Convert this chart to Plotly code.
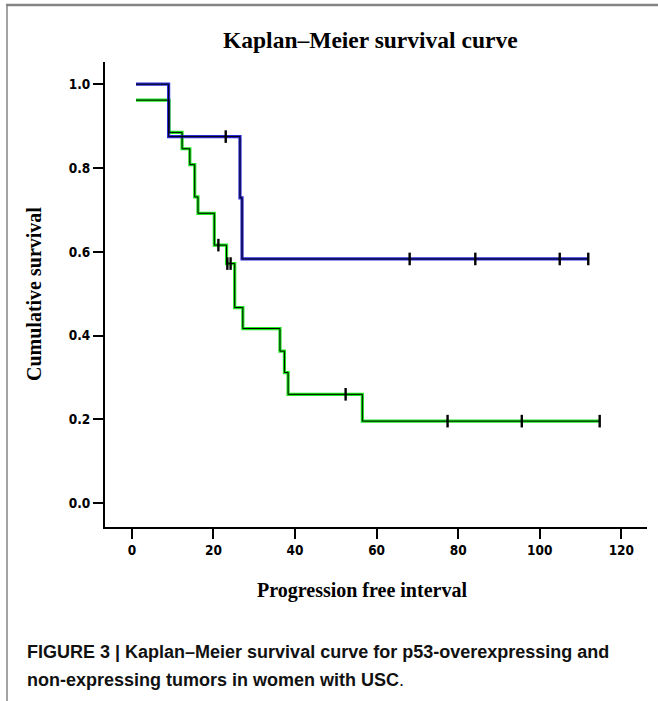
import plotly.graph_objects as go

# ---- data ----
blue_time = [1, 9, 26.5, 27, 111.9]
blue_surv = [1.0, 0.875, 0.729, 0.583, 0.583]
blue_cens_time = [23, 68.1, 84.2, 104.9, 111.9]
blue_cens_surv = [0.875, 0.583, 0.583, 0.583, 0.583]

green_time = [1, 9.1, 12.3, 14.2, 15.4, 16.2, 20.2, 23.2, 25.2, 27.2, 36.3, 37.4, 38.3, 56.5, 114.7]
green_surv = [0.962, 0.885, 0.846, 0.808, 0.731, 0.692, 0.616, 0.572, 0.467, 0.417, 0.363, 0.312, 0.260, 0.196, 0.196]
green_cens_time = [21.2, 23.4, 24.2, 52.4, 77.4, 95.6, 114.7]
green_cens_surv = [0.616, 0.572, 0.572, 0.260, 0.196, 0.196, 0.196]

x_ticks = [0, 20, 40, 60, 80, 100, 120]
y_ticks = [0.0, 0.2, 0.4, 0.6, 0.8, 1.0]
y_tick_labels = ["0.0", "0.2", "0.4", "0.6", "0.8", "1.0"]

title_text = "Kaplan\u2013Meier survival curve"
x_title = "Progression free interval"
y_title = "Cumulative survival"
caption_1 = "FIGURE 3 | Kaplan\u2013Meier survival curve for p53-overexpressing and"
caption_2 = "non-expressing tumors in women with USC."

# ---- geometry (pixels) ----
W, H = 658, 701
L, R, T, B = 105, 11, 62, 174
pw, ph = W - L - R, H - T - B


def px(xpix):
    return (xpix - L) / pw


def py(ypix):
    return (H - B - ypix) / ph


BLUE = "#2a2ad8"
GREEN = "#1ee61e"

fig = go.Figure()
for t, s, c in [(green_time, green_surv, GREEN), (blue_time, blue_surv, BLUE)]:
    fig.add_trace(go.Scatter(x=t, y=s, mode="lines", line=dict(color=c, width=3.2, shape="hv"),
                             hoverinfo="skip", showlegend=False))
for t, s in [(green_time, green_surv), (blue_time, blue_surv)]:
    fig.add_trace(go.Scatter(x=t, y=s, mode="lines", line=dict(color="black", width=1.0, shape="hv"),
                             hoverinfo="skip", showlegend=False))
for t, s in [(green_cens_time, green_cens_surv), (blue_cens_time, blue_cens_surv)]:
    fig.add_trace(go.Scatter(x=t, y=s, mode="markers",
                             marker=dict(symbol="line-ns", size=9, line=dict(color="black", width=2.4)),
                             hoverinfo="skip", showlegend=False))

tickfont = dict(family="DejaVu Sans Condensed", size=13.5, color="black", weight="bold")
fig.update_xaxes(range=[-6.6, 126.3], tickvals=x_ticks, ticks="outside", ticklen=10, tickwidth=2,
                 tickcolor="black", showline=True, linecolor="black", linewidth=2,
                 showgrid=False, zeroline=False, tickfont=tickfont)
fig.update_yaxes(range=[-0.0566, 1.053], tickvals=y_ticks, ticktext=y_tick_labels, ticks="outside",
                 ticklen=10, tickwidth=2, tickcolor="black", showline=True, linecolor="black",
                 linewidth=2, showgrid=False, zeroline=False, tickfont=tickfont)

serif = "Liberation Serif"
capfont = "Liberation Sans"
ann = [
    dict(x=px(370), y=py(40), text="<b>" + title_text + "</b>",
         font=dict(family=serif, size=23.5, color="black")),
    dict(x=px(362), y=py(590), text="<b>" + x_title + "</b>",
         font=dict(family=serif, size=20, color="black")),
    dict(x=px(34), y=py(294), text="<b>" + y_title + "</b>", textangle=-90,
         font=dict(family=serif, size=20, color="black")),
    dict(x=px(25), y=py(652), text="<b>" + caption_1 + "</b>", xanchor="left",
         font=dict(family=capfont, size=18, color="#111111")),
    dict(x=px(25), y=py(680), text="<b>" + caption_2[:-1] + "</b>" + caption_2[-1], xanchor="left",
         font=dict(family=capfont, size=18, color="#111111")),
]
for a in ann:
    a.setdefault("xanchor", "center")
    a.update(xref="paper", yref="paper", yanchor="middle", showarrow=False)
fig.update_layout(annotations=ann)

fig.update_layout(shapes=[
    dict(type="line", xref="paper", yref="paper", x0=px(6), x1=px(W + 5), y0=py(5), y1=py(5),
         line=dict(color="#858585", width=2.5)),
    dict(type="line", xref="paper", yref="paper", x0=px(7), x1=px(7), y0=py(5), y1=py(H + 5),
         line=dict(color="#858585", width=1.5)),
])

fig.update_layout(width=W, height=H, margin=dict(l=L, r=R, t=T, b=B),
                  paper_bgcolor="white", plot_bgcolor="white", showlegend=False)

fig.write_html("out.html", config={"displayModeBar": False},
               post_script="document.body.style.margin='0px';document.body.style.overflow='hidden';")
